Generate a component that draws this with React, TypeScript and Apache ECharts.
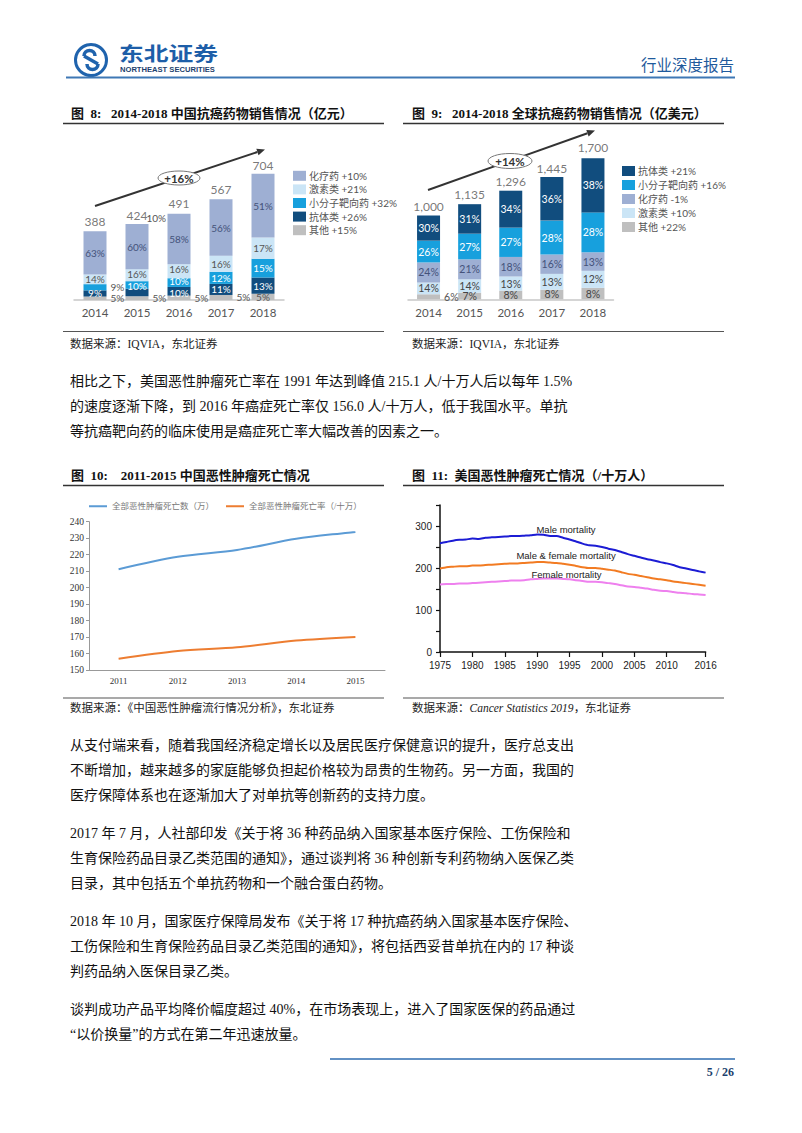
import React, { useEffect, useRef } from 'react';
import * as echarts from 'echarts';

// ---------- Figure 8: China anticancer drug sales (亿元) ----------
const years5 = ['2014', '2015', '2016', '2017', '2018'];
const cnTotals = [388, 424, 491, 567, 704];
const cnChemo = [63, 60, 58, 56, 51];
const cnHormone = [14, 16, 16, 16, 17];
const cnSmall = [9, 10, 10, 12, 15];
const cnAntibody = [9, 10, 10, 11, 13];
const cnOther = [5, 5, 5, 5, 5];
const cnLegend = ['化疗药', '激素类', '小分子靶向药', '抗体类', '其他'];
const cnGrowth = ['+10%', '+21%', '+32%', '+26%', '+15%'];
const cnCagr = '+16%';

// ---------- Figure 9: Global anticancer drug sales (亿美元) ----------
const glTotals = [1000, 1135, 1296, 1445, 1700];
const glAntibody = [30, 31, 34, 36, 38];
const glSmall = [26, 27, 27, 28, 28];
const glChemo = [24, 21, 18, 16, 13];
const glHormone = [14, 14, 13, 13, 12];
const glOther = [6, 7, 8, 8, 8];
const glLegend = ['抗体类', '小分子靶向药', '化疗药', '激素类', '其他'];
const glGrowth = ['+21%', '+16%', '-1%', '+10%', '+22%'];
const glCagr = '+14%';

// ---------- Figure 10: China cancer deaths 2011-2015 ----------
const years10 = ['2011', '2012', '2013', '2014', '2015'];
const cnDeaths = [211.2, 218.7, 222.8, 229.6, 233.8];
const cnMortality = [156.8, 161.5, 163.8, 167.9, 170.1];
const f10Names = ['全部恶性肿瘤死亡数（万）', '全部恶性肿瘤死亡率（/十万）'];
const f10YTicks = [150, 240, 10];

// ---------- Figure 11: US cancer mortality (/10万) ----------
const usYears = [1975, 1976, 1977, 1978, 1979, 1980, 1981, 1982, 1983, 1984, 1985, 1986, 1987, 1988,
  1989, 1990, 1991, 1992, 1993, 1994, 1995, 1996, 1997, 1998, 1999, 2000, 2001, 2002, 2003, 2004,
  2005, 2006, 2007, 2008, 2009, 2010, 2011, 2012, 2013, 2014, 2015, 2016];
const usMale = [259, 262, 265, 267, 268, 270, 269, 272, 273, 274, 275, 276, 276, 277,
  278, 280, 279, 276, 276, 272, 268, 263, 258, 254, 253, 250, 246, 243, 238, 233,
  229, 225, 221, 218, 214, 211, 207, 202, 199, 195, 192, 189];
const usBoth = [199, 202, 203, 204, 204, 206, 206, 207, 208, 209, 210, 211, 211, 212,
  213, 214, 214, 213, 212, 210, 208, 205, 202, 200, 200, 198, 196, 194, 190, 186,
  184, 181, 178, 175, 173, 171, 168, 166, 164, 162, 160, 158];
const usFemale = [161, 162, 162, 163, 163, 164, 165, 166, 167, 168, 169, 170, 170, 171,
  173, 174, 175, 175, 175, 174, 173, 171, 169, 167, 167, 166, 164, 162, 159, 156,
  155, 153, 151, 148, 146, 145, 143, 141, 140, 138, 137, 136];
const usSeriesNames = ['Male mortality', 'Male & female mortality', 'Female mortality'];
const usXLabels = [1975, 1980, 1985, 1990, 1995, 2000, 2005, 2010, 2016];
const usYLabels = [0, 100, 200, 300];

// ---------- Body text ----------
const para1 = [
  '相比之下，美国恶性肿瘤死亡率在 1991 年达到峰值 215.1 人/十万人后以每年 1.5%',
  '的速度逐渐下降，到 2016 年癌症死亡率仅 156.0 人/十万人，低于我国水平。单抗',
  '等抗癌靶向药的临床使用是癌症死亡率大幅改善的因素之一。',
];
const para2 = [
  '从支付端来看，随着我国经济稳定增长以及居民医疗保健意识的提升，医疗总支出',
  '不断增加，越来越多的家庭能够负担起价格较为昂贵的生物药。另一方面，我国的',
  '医疗保障体系也在逐渐加大了对单抗等创新药的支持力度。',
];
const para3 = [
  '2017 年 7 月，人社部印发《关于将 36 种药品纳入国家基本医疗保险、工伤保险和',
  '生育保险药品目录乙类范围的通知》，通过谈判将 36 种创新专利药物纳入医保乙类',
  '目录，其中包括五个单抗药物和一个融合蛋白药物。',
];
const para4 = [
  '2018 年 10 月，国家医疗保障局发布《关于将 17 种抗癌药纳入国家基本医疗保险、',
  '工伤保险和生育保险药品目录乙类范围的通知》，将包括西妥昔单抗在内的 17 种谈',
  '判药品纳入医保目录乙类。',
];
const para5 = [
  '谈判成功产品平均降价幅度超过 40%，在市场表现上，进入了国家医保的药品通过',
  '“以价换量”的方式在第二年迅速放量。',
];

const FONT_SERIF = "'Liberation Serif', 'Noto Sans CJK SC', serif";
const FONT_BAR = "Lato, 'Noto Sans CJK SC', sans-serif";
const FONT_ARIAL = "'Liberation Sans', Arial, sans-serif";
const FONT_CJK = "'Noto Sans CJK SC', sans-serif";

const C_CHEMO = '#9eafd3';
const C_HORMONE = '#cbe5f6';
const C_SMALL = '#17a0dd';
const C_ANTIBODY = '#114d7e';
const C_OTHER = '#bfbfbf';

function txt(text: string, x: number, y: number, size: number, opts: any = {}) {
  const align = opts.align || 'left';
  const el: any = {
    type: 'text',
    x,
    y,
    silent: true,
    z: 10,
    style: {
      text,
      fill: opts.fill || '#111',
      fontSize: size,
      fontFamily: opts.family || FONT_SERIF,
      fontWeight: opts.weight || 'normal',
      fontStyle: opts.style || 'normal',
      textAlign: align,
      align,
      textVerticalAlign: 'middle',
      verticalAlign: 'middle',
      rich: opts.rich,
    },
  };
  if (opts.scaleX) el.scaleX = opts.scaleX;
  return el;
}

function hline(x1: number, x2: number, y: number, color: string, w: number) {
  return { type: 'line', silent: true, shape: { x1, y1: y, x2, y2: y }, style: { stroke: color, lineWidth: w } };
}

function arrow(x1: number, y1: number, x2: number, y2: number) {
  const dx = x2 - x1, dy = y2 - y1;
  const len = Math.sqrt(dx * dx + dy * dy);
  const ux = dx / len, uy = dy / len;
  const px = -uy, py = ux;
  const bx = x2 - ux * 8, by = y2 - uy * 8;
  return [
    { type: 'line', silent: true, shape: { x1, y1, x2: bx, y2: by }, style: { stroke: '#333', lineWidth: 2 } },
    {
      type: 'polygon', silent: true,
      shape: { points: [[x2, y2], [bx + px * 3.5, by + py * 3.5], [bx - px * 3.5, by - py * 3.5]] },
      style: { fill: '#333' },
    },
  ];
}

function bubble(cx: number, cy: number, rx: number, ry: number, label: string) {
  return [
    { type: 'ellipse', silent: true, z: 5, shape: { cx, cy, rx, ry }, style: { fill: '#fff', stroke: '#777', lineWidth: 1 } },
    txt(label, cx, cy + 0.5, 11.5, { align: 'center', weight: 'bold', family: FONT_BAR, fill: '#333' }),
  ];
}

function stackBar(name: string, pcts: number[], totals: number[], color: string, labelColor: string, g: number, special: any = {}) {
  return {
    type: 'bar',
    name,
    xAxisIndex: g,
    yAxisIndex: g,
    stack: 'st' + g,
    barWidth: 23,
    itemStyle: { color },
    label: {
      show: true,
      position: 'inside',
      color: labelColor,
      fontSize: g === 0 ? 10 : 10.5,
      lineHeight: 8,
      fontFamily: FONT_BAR,
      formatter: (p: any) => pcts[p.dataIndex] + '%',
    },
    data: pcts.map((v, i) => {
      const item: any = { value: (totals[i] * v) / 100 };
      if (special[i]) item.label = special[i];
      return item;
    }),
  };
}

function totalsSeries(totals: number[], g: number, comma: boolean) {
  return {
    type: 'scatter',
    xAxisIndex: g,
    yAxisIndex: g,
    data: totals,
    symbolSize: 1,
    itemStyle: { color: 'rgba(0,0,0,0)' },
    label: {
      show: true,
      position: 'top',
      distance: 3,
      color: '#555',
      fontSize: 12,
      fontFamily: FONT_BAR,
      formatter: (p: any) => (comma ? String(p.value).replace(/\B(?=(\d{3})+(?!\d))/g, ',') : String(p.value)),
    },
  };
}

const outsideRight = { position: 'right', color: '#555', distance: 4 };

export default function App() {
  const ref = useRef<HTMLDivElement>(null);

  useEffect(() => {
    if (!ref.current) return;
    const chart = echarts.init(ref.current, null, { renderer: 'svg' });

    const paraLines: any[] = [];
    const addPara = (lines: string[], y0: number) => {
      lines.forEach((l, i) => paraLines.push(txt(l, 70, y0 + i * 25, 14, { fill: '#111' })));
    };
    addPara(para1, 381);
    addPara(para2, 745);
    addPara(para3, 833);
    addPara(para4, 921);
    addPara(para5, 1009);

    const legendText = { fontSize: 10, color: '#555', fontFamily: FONT_BAR };

    const option: any = {
      animation: false,
      backgroundColor: '#fff',
      grid: [
        { left: 74, top: 158, width: 210, height: 142 },
        { left: 408, top: 131.7, width: 205.5, height: 167.6 },
        { left: 89, top: 521.7, width: 296, height: 148.3 },
        { left: 440, top: 505, width: 265.6, height: 147 },
      ],
      xAxis: [
        {
          type: 'category', gridIndex: 0, data: years5,
          axisLine: { lineStyle: { color: '#c8c8c8', width: 1.5 } }, axisTick: { show: false },
          axisLabel: { color: '#555', fontSize: 11.5, fontFamily: FONT_BAR, margin: 7 },
        },
        {
          type: 'category', gridIndex: 1, data: years5,
          axisLine: { lineStyle: { color: '#c8c8c8', width: 1.5 } }, axisTick: { show: false },
          axisLabel: { color: '#555', fontSize: 11.5, fontFamily: FONT_BAR, margin: 7 },
        },
        {
          type: 'category', gridIndex: 2, data: years10,
          axisLine: { lineStyle: { color: '#999', width: 1 } }, axisTick: { show: false },
          axisLabel: { color: '#333', fontSize: 9, fontFamily: FONT_SERIF, margin: 6 },
        },
        {
          type: 'value', gridIndex: 3, min: 1975, max: 2016,
          splitLine: { show: false },
          axisLine: { lineStyle: { color: '#111', width: 1.5 } },
          axisTick: { show: true, customValues: usXLabels, length: 5, lineStyle: { color: '#111', width: 1.2 } },
          axisLabel: {
            customValues: usXLabels, color: '#222', fontSize: 10, fontFamily: FONT_ARIAL, margin: 8,
            formatter: (v: number) => String(v),
          },
        },
      ],
      yAxis: [
        { type: 'value', gridIndex: 0, min: 0, max: 800, show: false },
        { type: 'value', gridIndex: 1, min: 0, max: 2000, show: false },
        {
          type: 'value', gridIndex: 2, min: f10YTicks[0], max: f10YTicks[1], interval: f10YTicks[2],
          splitLine: { show: false },
          axisLine: { show: true, lineStyle: { color: '#999', width: 1 } },
          axisTick: { show: true, length: 3, lineStyle: { color: '#999' } },
          axisLabel: { color: '#333', fontSize: 9.5, fontFamily: FONT_SERIF, margin: 5 },
        },
        {
          type: 'value', gridIndex: 3, min: 0, max: 350, interval: 50,
          splitLine: { show: false },
          axisLine: { show: true, lineStyle: { color: '#111', width: 1.5 } },
          axisTick: { show: true, length: 4, lineStyle: { color: '#111', width: 1.2 } },
          axisLabel: {
            customValues: usYLabels, color: '#222', fontSize: 10, fontFamily: FONT_ARIAL, margin: 8,
            formatter: (v: number) => String(v),
          },
        },
      ],
      legend: [
        {
          orient: 'vertical', left: 288, top: 164, icon: 'rect', itemWidth: 13, itemHeight: 10, itemGap: 0,
          selectedMode: false, data: cnLegend,
          formatter: (n: string) => n + ' ' + cnGrowth[cnLegend.indexOf(n)],
          textStyle: { ...legendText, lineHeight: 13.6, padding: [0, 0, 0, -2] },
        },
        {
          orient: 'vertical', left: 617, top: 159, icon: 'rect', itemWidth: 13, itemHeight: 10, itemGap: 0,
          selectedMode: false, data: glLegend,
          formatter: (n: string) => n + ' ' + glGrowth[glLegend.indexOf(n)],
          textStyle: { ...legendText, lineHeight: 14, padding: [0, 0, 0, -2] },
        },
        {
          orient: 'horizontal', left: 84, top: 497, icon: 'rect', itemWidth: 18, itemHeight: 2, itemGap: 12,
          selectedMode: false, data: f10Names,
          textStyle: { fontSize: 8.5, color: '#777', fontFamily: FONT_SERIF },
        },
      ],
      series: [
        // Figure 8 (bottom -> top)
        stackBar('其他', cnOther, cnTotals, C_OTHER, '#555', 0, { 0: outsideRight, 1: outsideRight, 2: outsideRight, 3: outsideRight }),
        stackBar('抗体类', cnAntibody, cnTotals, C_ANTIBODY, '#fff', 0, {
          1: { position: 'right', color: '#555', offset: [-7, -74] },
          2: { offset: [0, 2] },
        }),
        stackBar('小分子靶向药', cnSmall, cnTotals, C_SMALL, '#fff', 0, {
          0: outsideRight,
          1: { offset: [0, 1] },
          2: { offset: [0, -1.5] },
        }),
        stackBar('激素类', cnHormone, cnTotals, C_HORMONE, '#555', 0, {
          1: { offset: [0, -1.5] },
          2: { offset: [0, -2.5] },
        }),
        stackBar('化疗药', cnChemo, cnTotals, C_CHEMO, '#44527a', 0),
        totalsSeries(cnTotals, 0, false),
        // Figure 9 (bottom -> top)
        stackBar('其他', glOther, glTotals, C_OTHER, '#444', 1, { 0: outsideRight }),
        stackBar('激素类', glHormone, glTotals, C_HORMONE, '#444', 1),
        stackBar('化疗药', glChemo, glTotals, C_CHEMO, '#44527a', 1),
        stackBar('小分子靶向药', glSmall, glTotals, C_SMALL, '#fff', 1),
        stackBar('抗体类', glAntibody, glTotals, C_ANTIBODY, '#fff', 1),
        totalsSeries(glTotals, 1, true),
        // Figure 10
        {
          type: 'line', name: f10Names[0], xAxisIndex: 2, yAxisIndex: 2, data: cnDeaths,
          smooth: 0.3, symbol: 'none', lineStyle: { color: '#5b9bd5', width: 2 }, itemStyle: { color: '#5b9bd5' },
        },
        {
          type: 'line', name: f10Names[1], xAxisIndex: 2, yAxisIndex: 2, data: cnMortality,
          smooth: 0.3, symbol: 'none', lineStyle: { color: '#ed7d31', width: 2 }, itemStyle: { color: '#ed7d31' },
        },
        // Figure 11
        {
          type: 'line', name: usSeriesNames[0], xAxisIndex: 3, yAxisIndex: 3,
          data: usYears.map((y, i) => [y, usMale[i]]), symbol: 'none', smooth: 0.2,
          lineStyle: { color: '#1c1cd4', width: 2 },
        },
        {
          type: 'line', name: usSeriesNames[1], xAxisIndex: 3, yAxisIndex: 3,
          data: usYears.map((y, i) => [y, usBoth[i]]), symbol: 'none', smooth: 0.2,
          lineStyle: { color: '#f27b22', width: 2 },
        },
        {
          type: 'line', name: usSeriesNames[2], xAxisIndex: 3, yAxisIndex: 3,
          data: usYears.map((y, i) => [y, usFemale[i]]), symbol: 'none', smooth: 0.2,
          lineStyle: { color: '#ee80ee', width: 2 },
        },
      ],
      graphic: {
        elements: [
          // Header
          { type: 'ring', silent: true, shape: { cx: 91, cy: 60, r: 17, r0: 14 }, style: { fill: '#1f63ad' } },
          { type: 'arc', silent: true, shape: { cx: 89.5, cy: 56, r: 5.5, startAngle: Math.PI, endAngle: Math.PI * 2, clockwise: true }, style: { stroke: '#1f63ad', lineWidth: 3.5, fill: 'none' } },
          { type: 'arc', silent: true, shape: { cx: 92.5, cy: 64, r: 5.5, startAngle: 0, endAngle: Math.PI, clockwise: true }, style: { stroke: '#1f63ad', lineWidth: 3.5, fill: 'none' } },
          { type: 'line', silent: true, shape: { x1: 84, y1: 56, x2: 98, y2: 64 }, style: { stroke: '#1f63ad', lineWidth: 3.5 } },
          txt('东北证券', 119, 52, 19.5, { weight: 'bold', family: FONT_CJK, fill: '#1d5ea8', scaleX: 1.27 }),
          txt('NORTHEAST SECURITIES', 120, 69.5, 7.6, { weight: 'bold', family: FONT_ARIAL, fill: '#1d3f6e' }),
          txt('行业深度报告', 734, 64, 15.5, { align: 'right', family: FONT_CJK, fill: '#1f5a9c' }),
          hline(66, 735, 77.5, '#3f78b5', 2),

          // Figure titles
          txt('图  8:   2014-2018 中国抗癌药物销售情况（亿元）', 71, 113, 13, { weight: 'bold' }),
          hline(63, 384, 123.5, '#333', 1.5),
          txt('图  9:   2014-2018 全球抗癌药物销售情况（亿美元）', 412, 113, 13, { weight: 'bold' }),
          hline(403, 724, 123.5, '#333', 1.5),
          txt('图  10:    2011-2015 中国恶性肿瘤死亡情况', 71, 475, 13, { weight: 'bold' }),
          hline(63, 384, 485.5, '#333', 1.5),
          txt('图  11:  美国恶性肿瘤死亡情况（/十万人）', 412, 475, 13, { weight: 'bold' }),
          hline(403, 724, 485.5, '#333', 1.5),

          // Growth arrows
          ...arrow(95, 206, 265, 149.5),
          ...bubble(179, 178, 21, 7, cnCagr),
          ...arrow(428, 190, 595, 130.5),
          ...bubble(510, 161, 22, 7.5, glCagr),

          // Figure 11 annotations
          txt(usSeriesNames[0], 566, 529, 9.5, { align: 'center', family: FONT_ARIAL, fill: '#222' }),
          txt(usSeriesNames[1], 566, 555.5, 9.5, { align: 'center', family: FONT_ARIAL, fill: '#222' }),
          txt(usSeriesNames[2], 566.5, 574, 9.5, { align: 'center', family: FONT_ARIAL, fill: '#222' }),

          // Sources
          hline(63, 384, 331.5, '#555', 1.2),
          hline(403, 724, 331.5, '#555', 1.2),
          txt('数据来源：IQVIA，东北证券', 70, 344, 11.5, { fill: '#222' }),
          txt('数据来源：IQVIA，东北证券', 412, 344, 11.5, { fill: '#222' }),
          hline(63, 384, 698, '#555', 1.2),
          hline(403, 724, 698, '#555', 1.2),
          txt('数据来源：《中国恶性肿瘤流行情况分析》，东北证券', 70, 708, 11.5, { fill: '#222' }),
          txt('数据来源：{i|Cancer Statistics 2019}，东北证券', 412, 708, 11.5, {
            fill: '#222',
            rich: { i: { fontStyle: 'italic', fontSize: 11.5, fontFamily: FONT_SERIF, fill: '#222' } },
          }),

          // Body paragraphs
          ...paraLines,

          // Footer
          hline(330, 735, 1059, '#2e6db0', 1.5),
          txt('5 / 26', 734, 1071.5, 12, { align: 'right', weight: 'bold', fill: '#1c3f6e' }),
        ],
      },
    };

    chart.setOption(option);
    return () => chart.dispose();
  }, []);

  return (
    <div
      ref={ref}
      style={{ position: 'absolute', left: 0, top: 0, width: 802, height: 1133, background: '#fff' }}
    />
  );
}
